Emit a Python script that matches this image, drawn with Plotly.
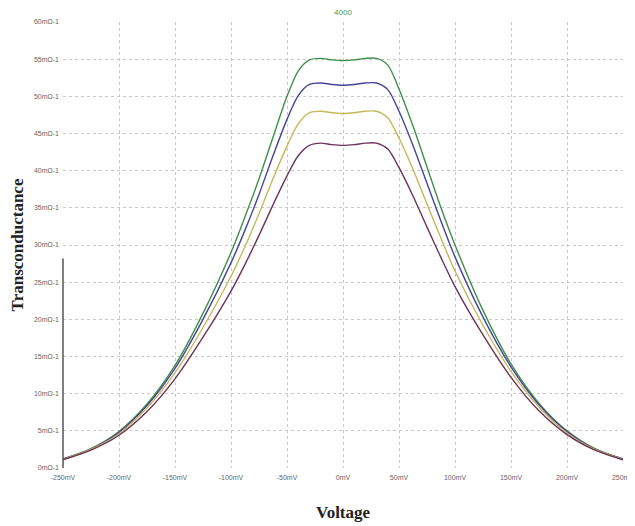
import plotly.graph_objects as go

voltage_mv = [-250, -225, -200, -175, -150, -125, -100, -87.5, -75, -62.5, -50, -40, -30, -20, -10, 0,
              10, 20, 30, 40, 50, 62.5, 75, 87.5, 100, 125, 150, 175, 200, 225, 250]

gm_green = [1.2, 2.6, 4.9, 8.6, 13.8, 20.8, 29.0, 33.8, 38.9, 44.5, 50.0, 53.4, 54.9, 55.1, 54.9, 54.8,
            54.9, 55.1, 55.1, 54.2, 51.0, 46.0, 40.5, 35.0, 30.0, 21.2, 14.0, 8.7, 5.0, 2.6, 1.2]
gm_blue = [1.2, 2.55, 4.8, 8.4, 13.4, 20.0, 27.6, 32.0, 36.8, 42.0, 46.9, 50.1, 51.6, 51.8, 51.6, 51.5,
           51.6, 51.8, 51.8, 50.9, 48.0, 43.4, 38.3, 33.2, 28.4, 20.3, 13.6, 8.5, 4.9, 2.55, 1.2]
gm_olive = [1.15, 2.5, 4.6, 8.1, 12.8, 18.9, 25.8, 29.8, 34.2, 38.9, 43.3, 46.3, 47.8, 48.0, 47.8, 47.7,
            47.8, 48.0, 48.0, 47.1, 44.4, 40.2, 35.5, 30.9, 26.5, 19.2, 13.0, 8.2, 4.7, 2.5, 1.15]
gm_purple = [1.1, 2.4, 4.4, 7.6, 12.0, 17.6, 23.8, 27.4, 31.3, 35.4, 39.3, 42.0, 43.4, 43.7, 43.5, 43.4,
             43.5, 43.7, 43.7, 42.9, 40.4, 36.6, 32.4, 28.3, 24.4, 17.9, 12.2, 7.7, 4.5, 2.4, 1.1]

x_tick_vals = [-250, -200, -150, -100, -50, 0, 50, 100, 150, 200, 250]
x_tick_text = ["-250mV", "-200mV", "-150mV", "-100mV", "-50mV", "0mV", "50mV", "100mV", "150mV", "200mV", "250mV"]
y_tick_vals = [0, 5, 10, 15, 20, 25, 30, 35, 40, 45, 50, 55, 60]
y_tick_text = ["0mΩ-1", "5mΩ-1", "10mΩ-1", "15mΩ-1", "20mΩ-1", "25mΩ-1", "30mΩ-1", "35mΩ-1",
               "40mΩ-1", "45mΩ-1", "50mΩ-1", "55mΩ-1", "60mΩ-1"]

series = [
    (gm_green, "#3f8f4a"),
    (gm_blue, "#45449a"),
    (gm_olive, "#c4b85a"),
    (gm_purple, "#6e3358"),
]

fig = go.Figure()
for vals, col in series:
    fig.add_trace(go.Scatter(x=voltage_mv, y=vals, mode="lines",
                             line=dict(color=col, width=1.4, shape="spline", smoothing=0.8),
                             showlegend=False, hoverinfo="skip"))

fig.add_shape(type="line", xref="paper", yref="paper", x0=0, x1=0, y0=0, y1=0.47,
              line=dict(color="#555555", width=1.5))

fig.update_layout(
    width=627, height=518,
    margin=dict(l=55, r=12, t=14, b=58),
    paper_bgcolor="white", plot_bgcolor="white",
    title=dict(text="4000", x=0.5, xref="paper", y=0.998, yanchor="top",
               font=dict(family="Arial, Liberation Sans", size=8, color="#3f9a5a")),
)
fig.update_xaxes(range=[-250, 250], tickvals=x_tick_vals, ticktext=x_tick_text, automargin=False,
                 tickfont=dict(family="Arial, Liberation Sans", size=7, color="#666666"),
                 ticklabelstandoff=4,
                 showgrid=True, gridcolor="#c8c8c8", griddash="dot", gridwidth=1,
                 zeroline=False, showline=False, ticks="",
                 title=dict(text="<b>Voltage</b>", standoff=26,
                            font=dict(family="Liberation Serif, Times New Roman", size=17, color="#222222")))
fig.update_yaxes(range=[0, 60], tickvals=y_tick_vals, ticktext=y_tick_text, automargin=False,
                 tickfont=dict(family="Arial, Liberation Sans", size=7, color="#666666"),
                 ticklabelstandoff=3,
                 showgrid=True, gridcolor="#c8c8c8", griddash="dot", gridwidth=1,
                 zeroline=False, showline=False, ticks="",
                 title=dict(text="<b>Transconductance</b>", standoff=6,
                            font=dict(family="Liberation Serif, Times New Roman", size=17, color="#222222")))

fig.write_html("out.html")
